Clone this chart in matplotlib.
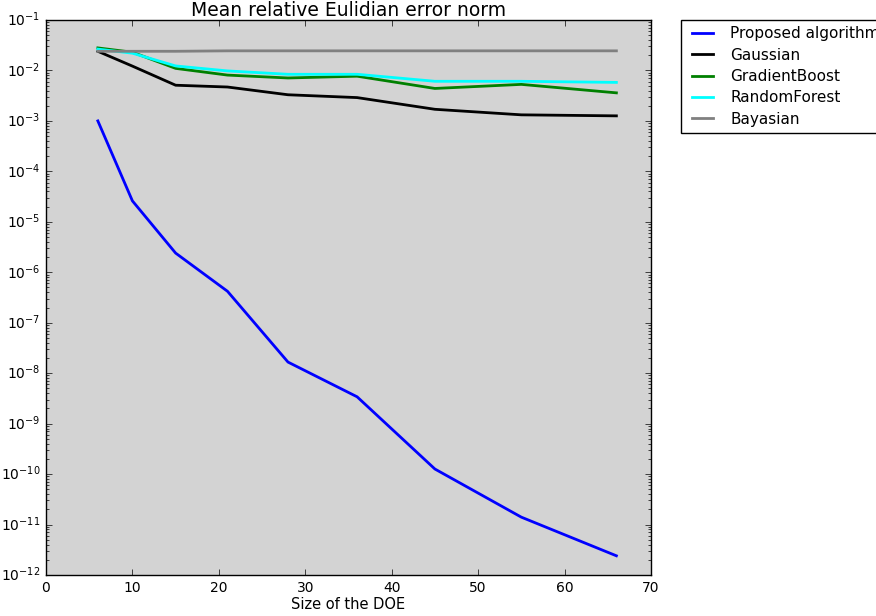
import matplotlib
matplotlib.use("Agg")
import matplotlib.pyplot as plt

# ---- data ----
doe_size = [6, 10, 15, 21, 28, 36, 45, 55, 66]
proposed = [1.0e-3, 2.6e-5, 2.4e-6, 4.2e-7, 1.66e-8, 3.4e-9, 1.26e-10, 1.4e-11, 2.4e-12]
gaussian = [2.4e-2, 1.22e-2, 5.1e-3, 4.7e-3, 3.3e-3, 2.9e-3, 1.7e-3, 1.32e-3, 1.26e-3]
grad_boost = [2.8e-2, 2.3e-2, 1.1e-2, 8.1e-3, 7.1e-3, 7.7e-3, 4.4e-3, 5.3e-3, 3.6e-3]
random_forest = [2.65e-2, 2.2e-2, 1.23e-2, 9.8e-3, 8.4e-3, 8.4e-3, 6.1e-3, 6.1e-3, 5.8e-3]
bayesian = [2.4e-2, 2.4e-2, 2.4e-2, 2.45e-2, 2.45e-2, 2.45e-2, 2.45e-2, 2.45e-2, 2.45e-2]

series = [
    ("Proposed algorithm", proposed, "blue"),
    ("Gaussian", gaussian, "black"),
    ("GradientBoost", grad_boost, "green"),
    ("RandomForest", random_forest, "cyan"),
    ("Bayasian", bayesian, "gray"),
]

plt.style.use("classic")
plt.rcParams["figure.facecolor"] = "white"
plt.rcParams["savefig.facecolor"] = "white"

fig = plt.figure(figsize=(8.76, 6.16), dpi=100)
ax = fig.add_axes([0.0525, 0.0666, 0.6906, 0.9009])
ax.set_facecolor("lightgray")

for name, vals, col in series:
    ax.plot(doe_size, vals, color=col, linewidth=2, label=name)

ax.set_yscale("log")
ax.set_xlim(0, 70)
ax.set_ylim(1e-12, 1e-1)
ax.set_xlabel("Size of the DOE", fontsize=10.5, labelpad=2)
ax.set_title("Mean relative Eulidian error norm", fontsize=13.5, pad=3)
ax.tick_params(labelsize=10)

ax.legend(bbox_to_anchor=(1.05, 1), loc="upper left", borderaxespad=0.,
          fontsize=11, labelspacing=0.42, fancybox=False)

fig.savefig("out.png", dpi=100)
